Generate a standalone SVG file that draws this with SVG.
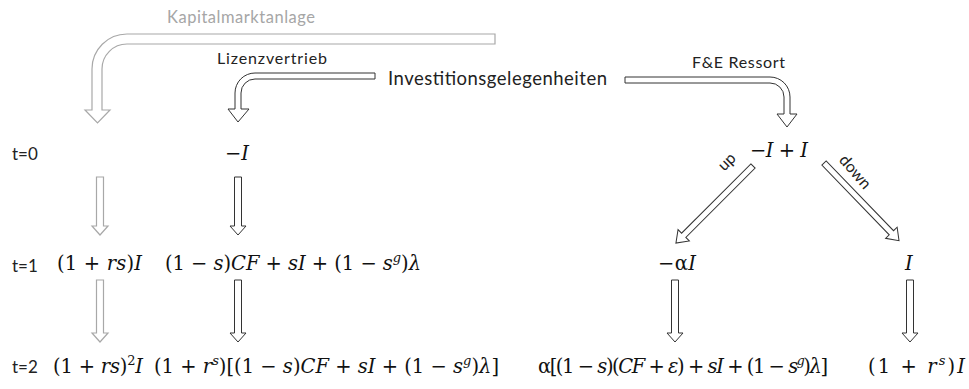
<svg xmlns="http://www.w3.org/2000/svg" width="969" height="389" viewBox="0 0 969 389">
<style>
.lbl{font-family:Lato,"Liberation Sans",sans-serif;fill:#222}
.g{fill:#a6a6a6}
.m{font-family:"DejaVu Serif","Liberation Serif",serif;font-size:19.5px;fill:#111}
.i{font-style:italic}
.ab{fill:#fff;stroke:#333;stroke-width:1}
.ag{fill:#fff;stroke:#a8a8a8;stroke-width:1.2}
</style>
<rect width="969" height="389" fill="#fff"/>
<g id="connectors">
  <path class="ag" d="M495 34 H127 A35 35 0 0 0 92 69 V110 H85 L97.5 123 L110 110 H102 V69 A25 25 0 0 1 127 44 H495 Z"/>
  <path class="ab" d="M375 73 H255 A20 20 0 0 0 235 93 V109 H228 L238 122 L249 109 H241 V93 A14 14 0 0 1 255 79 H375 Z"/>
  <path class="ab" d="M625 77 H770 A20 20 0 0 1 790 97 V114 H797 L787 127 L777 114 H784 V97 A14 14 0 0 0 770 83 H625 Z"/>
  <path class="ag" d="M96.5 177 H103.5 V226 H108 L100 235 L92 226 H96.5 Z"/>
  <path class="ab" d="M234.5 177 H241.5 V226 H246 L238 235 L230 226 H234.5 Z"/>
  <path class="ag" d="M96.5 280 H103.5 V333 H108 L100 342 L92 333 H96.5 Z"/>
  <path class="ab" d="M234.5 280 H241.5 V333 H246 L238 342 L230 333 H234.5 Z"/>
  <path class="ab" d="M671.5 280 H678.5 V333 H683 L675 342 L667 333 H671.5 Z"/>
  <path class="ab" d="M906.5 280 H913.5 V333 H918 L910 342 L902 333 H906.5 Z"/>
  <path class="ab" transform="translate(753,166) rotate(45)" d="M-3 0 H3 V98 H8 L0 109 L-8 98 H-3 Z"/>
  <path class="ab" transform="translate(824,163) rotate(-44)" d="M-3 0 H3 V97 H8 L0 108 L-8 97 H-3 Z"/>
</g>
<g id="label-kapital"><text class="lbl g" x="167" y="23" font-size="16.5" textLength="148">Kapitalmarktanlage</text></g>
<g id="label-lizenz"><text class="lbl" x="217" y="64" font-size="16" textLength="110">Lizenzvertrieb</text></g>
<g id="node-invest"><text class="lbl" x="388" y="85" font-size="18.5" textLength="219">Investitionsgelegenheiten</text></g>
<g id="label-fe"><text class="lbl" x="692" y="68" font-size="16" textLength="93">F&amp;E Ressort</text></g>
<g id="label-up"><text class="lbl" x="727" y="167" font-size="16" text-anchor="middle" transform="rotate(-45 727 162)">up</text></g>
<g id="label-down"><text class="lbl" x="855" y="177" font-size="16" text-anchor="middle" transform="rotate(49 855 172)">down</text></g>
<g id="t0"><text class="lbl" x="12" y="160" font-size="17">t=0</text></g>
<g id="t1"><text class="lbl" x="12" y="272" font-size="17">t=1</text></g>
<g id="t2"><text class="lbl" x="12" y="373" font-size="17">t=2</text></g>
<g id="n-lic0"><text class="m" x="225" y="160">−<tspan class="i">I</tspan></text></g>
<g id="n-fe0"><text class="m" x="750" y="157" textLength="58">−<tspan class="i">I</tspan> + <tspan class="i">I</tspan></text></g>
<g id="n-cap1"><text class="m g" x="57" y="270" textLength="85">(1 + <tspan class="i">rs</tspan>)<tspan class="i">I</tspan></text></g>
<g id="n-lic1"><text class="m" x="165" y="270" textLength="256">(1 − <tspan class="i">s</tspan>)<tspan class="i">CF</tspan> + <tspan class="i">sI</tspan> + (1 − <tspan class="i">s</tspan><tspan class="i" dy="-8" font-size="13">g</tspan><tspan dy="8">)</tspan><tspan class="i">λ</tspan></text></g>
<g id="n-up1"><text class="m" x="658" y="270" textLength="38">−α<tspan class="i">I</tspan></text></g>
<g id="n-down1"><text class="m" x="905" y="270"><tspan class="i">I</tspan></text></g>
<g id="n-cap2"><text class="m g" x="53" y="373" textLength="90">(1 + <tspan class="i">rs</tspan>)<tspan dy="-8" font-size="13">2</tspan><tspan class="i" dy="8">I</tspan></text></g>
<g id="n-lic2"><text class="m" x="154" y="373" textLength="345">(1 + <tspan class="i">r</tspan><tspan class="i" dy="-8" font-size="13">s</tspan><tspan dy="8">)[(1 − </tspan><tspan class="i">s</tspan>)<tspan class="i">CF</tspan> + <tspan class="i">sI</tspan> + (1 − <tspan class="i">s</tspan><tspan class="i" dy="-8" font-size="13">g</tspan><tspan dy="8">)</tspan><tspan class="i">λ</tspan>]</text></g>
<g id="n-up2"><text class="m" x="538" y="373" font-size="18" textLength="290">α[(1 − <tspan class="i">s</tspan>)(<tspan class="i">CF</tspan> + <tspan class="i">ε</tspan>) + <tspan class="i">sI</tspan> + (1 − <tspan class="i">s</tspan><tspan class="i" dy="-8" font-size="12.5">g</tspan><tspan dy="8">)</tspan><tspan class="i">λ</tspan>]</text></g>
<g id="n-down2"><text class="m" x="868" y="373" textLength="97">(1 + <tspan class="i">r</tspan><tspan class="i" dy="-8" font-size="13">s</tspan><tspan dy="8">)</tspan><tspan class="i">I</tspan></text></g>
</svg>
